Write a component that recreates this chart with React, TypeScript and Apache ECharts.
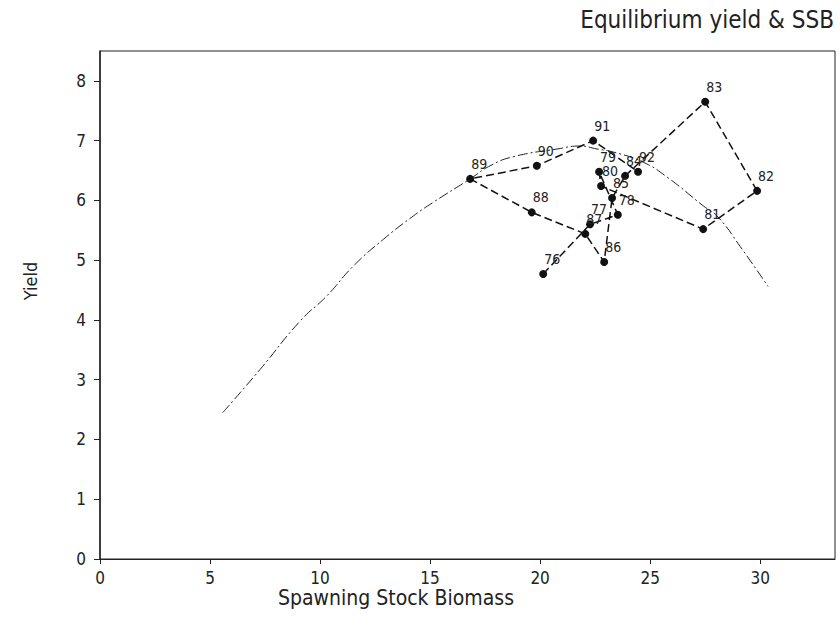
import React, { useEffect, useRef } from "react";
import * as echarts from "echarts";

const years = ["76","77","78","79","80","81","82","83","84","85","86","87","88","89","90","91","92"];
const ssb = [20.14, 22.27, 23.53, 22.68, 22.77, 27.41, 29.86, 27.5, 23.86, 23.27, 22.91, 22.05, 19.62, 16.82, 19.85, 22.41, 24.45];
const yieldVals = [4.77, 5.6, 5.76, 6.48, 6.24, 5.52, 6.16, 7.65, 6.41, 6.04, 4.97, 5.44, 5.8, 6.36, 6.58, 7.0, 6.48];

const curveSsb = [5.58, 7.27, 9.09, 10.3, 11.51, 12.88, 14.24, 15.15, 16.82, 17.73, 18.77, 20.77, 21.82, 22.59, 23.32, 24.68, 25.77, 27.41, 28.09, 29.09, 30.36];
const curveYield = [2.45, 3.17, 3.98, 4.4, 4.9, 5.35, 5.74, 5.97, 6.36, 6.58, 6.73, 6.86, 6.91, 6.86, 6.81, 6.64, 6.39, 5.91, 5.72, 5.23, 4.56];

const titleText = "Equilibrium yield & SSB";
const xTitle = "Spawning Stock Biomass";
const yTitle = "Yield";

const FONT = "'Liberation Sans Narrow', 'DejaVu Sans Condensed', 'Liberation Sans', sans-serif";

export default function App() {
  const ref = useRef<HTMLDivElement>(null);
  useEffect(() => {
    if (!ref.current) return;
    const chart = echarts.init(ref.current, undefined, { renderer: "svg" });
    const pts = years.map((y, i) => ({ value: [ssb[i], yieldVals[i]], name: y }));
    const curve = curveSsb.map((x, i) => [x, curveYield[i]]);
    chart.setOption({
      animation: false,
      backgroundColor: "#ffffff",
      grid: { left: 100, right: 5, top: 51, bottom: 62, show: true, borderColor: "#222", borderWidth: 1 },
      xAxis: {
        type: "value", min: 0, max: 33.4, interval: 5,
        axisLine: { show: true, lineStyle: { color: "#222", width: 1 } },
        axisTick: { show: true, length: 5, inside: false, lineStyle: { color: "#222" } },
        axisLabel: { color: "#222", fontSize: 17, fontFamily: FONT, margin: 10, showMaxLabel: false },
        splitLine: { show: false },
      },
      yAxis: {
        type: "value", min: 0, max: 8.5, interval: 1,
        axisLine: { show: true, lineStyle: { color: "#222", width: 1.5 } },
        axisTick: { show: true, length: 6, lineStyle: { color: "#222" } },
        axisLabel: { color: "#222", fontSize: 17, fontFamily: FONT, margin: 14, showMaxLabel: false },
        splitLine: { show: false },
      },
      graphic: [
        { type: "text", right: 6, top: 8, style: { text: titleText, fill: "#222", fontSize: 24, fontFamily: FONT } },
        { type: "text", x: 396, y: 598, style: { text: xTitle, fill: "#222", fontSize: 21, fontFamily: FONT, textAlign: "center", textVerticalAlign: "middle" } },
        { type: "text", x: 30, y: 281, rotation: Math.PI / 2, style: { text: yTitle, fill: "#222", fontSize: 18, fontFamily: FONT, textAlign: "center", textVerticalAlign: "middle" } },
      ],
      series: [
        {
          type: "line", data: curve, smooth: true, symbol: "none",
          lineStyle: { color: "#222", width: 1, type: [10, 3, 2, 3] },
          z: 1,
        },
        {
          type: "line", data: pts, symbol: "circle", symbolSize: 8,
          itemStyle: { color: "#111" },
          lineStyle: { color: "#111", width: 1.5, type: [8, 4] },
          label: {
            show: true, position: "top", distance: 3, offset: [9, -1],
            formatter: (p: any) => p.name, color: "#222", fontSize: 14, fontFamily: FONT,
          },
          z: 2,
        },
      ],
    });
    return () => chart.dispose();
  }, []);
  return <div ref={ref} style={{ position: "fixed", left: 0, top: 0, width: 840, height: 621 }} />;
}
